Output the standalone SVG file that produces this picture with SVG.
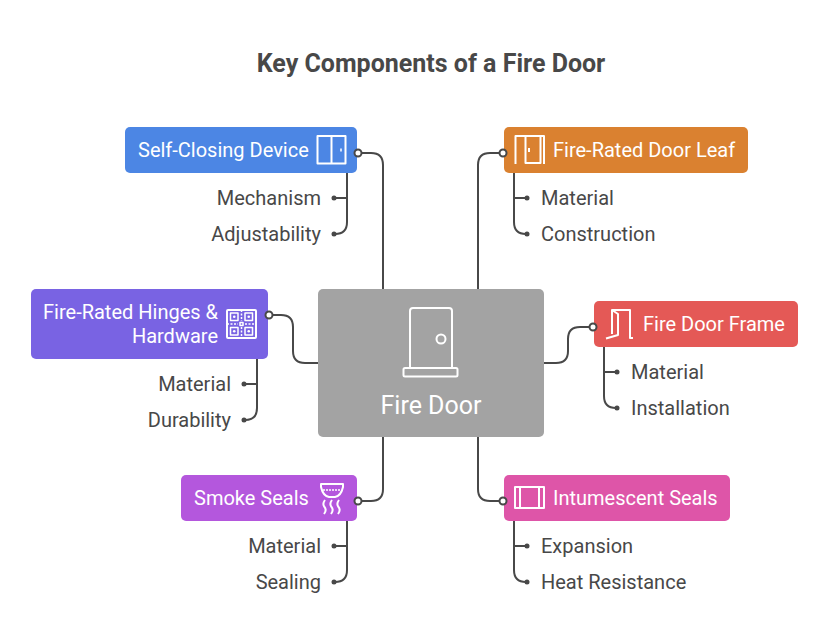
<svg xmlns="http://www.w3.org/2000/svg" width="825" height="642" viewBox="0 0 825 642">
<style>
text{font-family:Roboto,"Liberation Sans",sans-serif}
.title{font-size:25px;font-weight:700;fill:#484848;text-anchor:middle}
.n{font-size:20px;fill:#fff}
.l{font-size:20px;fill:#484848}
.e{text-anchor:end}
.c{fill:none;stroke:#484848;stroke-width:2}
.d{fill:#484848}
.o{fill:#fff;stroke:#484848;stroke-width:2}
.i{fill:none;stroke:#fff;stroke-width:1.500;stroke-linejoin:round}
.i2{fill:none;stroke:#fff;stroke-width:2;stroke-linejoin:round}
</style>
<rect width="825" height="642" fill="#fff"/>
<text class="title" x="431" y="72">Key Components of a Fire Door</text>
<g id="connectors">
<path class="c" d="M383 290V165Q383 153 371 153H358"/>
<path class="c" d="M478 290V165Q478 153 490 153H503"/>
<path class="c" d="M318 363H305Q293 363 293 351V327Q293 315 281 315H269"/>
<path class="c" d="M544 363H556Q568 363 568 351V339Q568 327 580 327H593"/>
<path class="c" d="M383 437V489Q383 501 371 501H358"/>
<path class="c" d="M478 437V489Q478 501 490 501H503"/>
<path class="c" d="M347 173V222Q347 234 335 234M347 198H335"/>
<path class="c" d="M514 173V222Q514 234 526 234M514 198H526"/>
<path class="c" d="M257 359V408Q257 420 245 420M257 384H245"/>
<path class="c" d="M604 347V396Q604 408 616 408M604 372H616"/>
<path class="c" d="M347 521V570Q347 582 335 582M347 546H335"/>
<path class="c" d="M514 521V570Q514 582 526 582M514 546H526"/>
<circle class="d" cx="334" cy="198" r="2.500"/><circle class="d" cx="334" cy="234" r="2.500"/>
<circle class="d" cx="527" cy="198" r="2.500"/><circle class="d" cx="527" cy="234" r="2.500"/>
<circle class="d" cx="244" cy="384" r="2.500"/><circle class="d" cx="244" cy="420" r="2.500"/>
<circle class="d" cx="617" cy="372" r="2.500"/><circle class="d" cx="617" cy="408" r="2.500"/>
<circle class="d" cx="334" cy="546" r="2.500"/><circle class="d" cx="334" cy="582" r="2.500"/>
<circle class="d" cx="527" cy="546" r="2.500"/><circle class="d" cx="527" cy="582" r="2.500"/>
</g>
<g id="center">
<rect x="318" y="289" width="226" height="148" rx="5" fill="#a3a3a3"/>
<path class="i2" d="M410 367V311Q410 308 413 308H449Q452 308 452 311V367"/>
<circle class="i2" cx="441" cy="339" r="4.500"/>
<rect class="i2" x="403.500" y="368" width="54" height="8.500" rx="1.500"/>
<text x="431" y="414" font-size="25" fill="#fff" text-anchor="middle">Fire Door</text>
</g>
<g id="self-closing">
<rect x="125" y="127" width="232" height="46" rx="5" fill="#4c86e4"/>
<text class="n" x="138" y="157">Self-Closing Device</text>
<rect class="i2" x="317.500" y="136" width="28" height="27.500"/>
<path class="i2" d="M331.500 136V163.500"/>
<path d="M341 148.500V151.500" stroke="#fff" stroke-width="1.500"/>
<circle class="o" cx="358" cy="153" r="3.500"/>
<text class="l e" x="321" y="205">Mechanism</text>
<text class="l e" x="321" y="241">Adjustability</text>
</g>
<g id="door-leaf">
<rect x="504" y="127" width="244" height="46" rx="5" fill="#da8130"/>
<path class="i2" d="M515.500 164V136H544V164"/>
<path class="i2" d="M525.500 136V163H540.500V136"/>
<path d="M529 148V152" stroke="#fff" stroke-width="2"/>
<text class="n" x="553" y="157">Fire-Rated Door Leaf</text>
<circle class="o" cx="503" cy="153" r="3.500"/>
<text class="l" x="541" y="205">Material</text>
<text class="l" x="541" y="241">Construction</text>
</g>
<g id="hinges">
<rect x="31" y="289" width="237" height="70" rx="5" fill="#7963e3"/>
<text class="n e" x="218" y="319">Fire-Rated Hinges &amp;</text>
<text class="n e" x="218" y="343">Hardware</text>
<rect class="i2" x="227" y="310" width="29" height="28" rx="1"/>
<path class="i" d="M241.500 310V321M241.500 327V338M227 324H238M245 324H256" stroke-dasharray="2 1.500"/>
<rect class="i" x="240" y="322.500" width="3" height="3"/>
<rect class="i" x="230.500" y="313" width="7.500" height="7.500"/><rect class="i" x="245" y="313" width="7.500" height="7.500"/>
<rect class="i" x="230.500" y="327.500" width="7.500" height="7.500"/><rect class="i" x="245" y="327.500" width="7.500" height="7.500"/>
<g fill="#fff"><circle cx="234.250" cy="316.750" r="1.300"/><circle cx="248.750" cy="316.750" r="1.300"/><circle cx="234.250" cy="331.250" r="1.300"/><circle cx="248.750" cy="331.250" r="1.300"/></g>
<circle class="o" cx="269" cy="315" r="3.500"/>
<text class="l e" x="231" y="391">Material</text>
<text class="l e" x="231" y="427">Durability</text>
</g>
<g id="frame">
<rect x="594" y="301" width="204" height="46" rx="5" fill="#e45956"/>
<path class="i2" d="M612 334V310H630V338H633"/>
<path class="i2" d="M612 310L618 314V335L606 338.500"/>
<text class="n" x="643" y="331">Fire Door Frame</text>
<circle class="o" cx="593" cy="327" r="3.500"/>
<text class="l" x="631" y="379">Material</text>
<text class="l" x="631" y="415">Installation</text>
</g>
<g id="smoke">
<rect x="181" y="475" width="176" height="46" rx="5" fill="#b457dd"/>
<text class="n" x="194" y="505">Smoke Seals</text>
<path class="i2" d="M321 484H343V487Q341 496 335 497H329Q323 496 321 487Z"/>
<path class="i" d="M323 490H341" stroke-dasharray="2 1"/>
<path class="i2" d="M325 500Q322 504 324.500 507Q327 510 324 514M332 500Q329 504 331.500 507Q334 510 331 514M339 500Q336 504 338.500 507Q341 510 338 514"/>
<circle class="o" cx="358" cy="501" r="3.500"/>
<text class="l e" x="321" y="553">Material</text>
<text class="l e" x="321" y="589">Sealing</text>
</g>
<g id="intumescent">
<rect x="504" y="475" width="226" height="46" rx="5" fill="#de55a8"/>
<rect class="i2" x="515" y="487" width="29" height="21"/>
<path class="i2" d="M520 487V508M539 487V508"/>
<text class="n" x="553" y="505">Intumescent Seals</text>
<circle class="o" cx="503" cy="501" r="3.500"/>
<text class="l" x="541" y="553">Expansion</text>
<text class="l" x="541" y="589">Heat Resistance</text>
</g>
</svg>
